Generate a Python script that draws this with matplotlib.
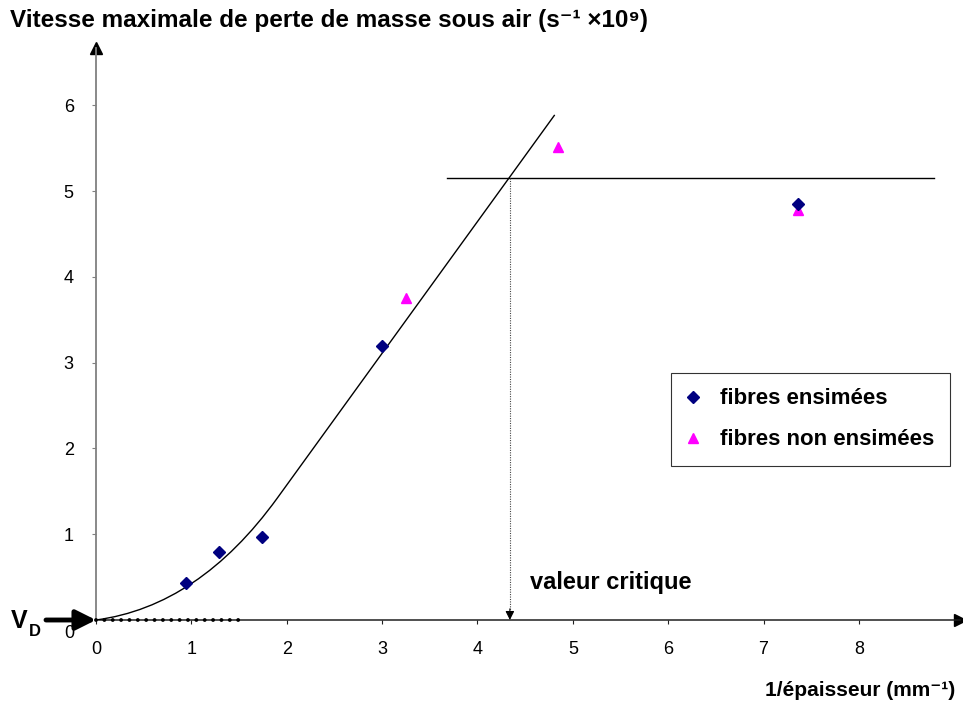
import matplotlib
matplotlib.use('Agg')
import matplotlib.pyplot as plt
from matplotlib.lines import Line2D
from matplotlib.path import Path
from matplotlib.patches import PathPatch

plt.rcParams['font.family'] = ['Liberation Sans', 'DejaVu Sans']

# Mesures (1/épaisseur en mm^-1, vitesse en s^-1 x 10^9)
x_ensimees = [0.94, 1.29, 1.74, 3.00, 7.36]
y_ensimees = [0.43, 0.79, 0.97, 3.20, 4.85]
x_non_ensimees = [3.25, 4.84, 7.36]
y_non_ensimees = [3.75, 5.52, 4.78]

# Tendance : origine, point de contrôle de la courbe, fin de courbe, fin de droite
tendance_x = [0.0, 1.08, 1.90, 4.81]
tendance_y = [0.0, 0.16, 1.42, 5.89]

# Plateau et valeur critique
plateau_y = 5.15
plateau_x = [3.68, 8.79]
valeur_critique = 4.34
vd_fin = 1.56

xticks = [0, 1, 2, 3, 4, 5, 6, 7, 8]
yticks = [1, 2, 3, 4, 5, 6]

fig = plt.figure(figsize=(9.63, 7.06), dpi=100)
ax = fig.add_axes([96 / 963, 86 / 706, 864 / 963, 572 / 706])
ax.set_xlim(0, 9.06)
ax.set_ylim(0, 6.67)

for s in ['top', 'right']:
    ax.spines[s].set_visible(False)
ax.spines['left'].set_color('#808080')
ax.spines['bottom'].set_color('#202020')
ax.spines['left'].set_linewidth(1.3)
ax.spines['bottom'].set_linewidth(1.1)

# flèches au bout des axes
ax.plot(0, 1, '^', color='k', markersize=8, transform=ax.get_xaxis_transform(), clip_on=False)
ax.plot(1, 0, '>', color='k', markersize=8, transform=ax.get_yaxis_transform(), clip_on=False)

ax.set_xticks(xticks)
ax.set_xticklabels([str(t) for t in xticks])
ax.set_yticks(yticks)
ax.set_yticklabels([str(t) for t in yticks])
ax.tick_params(axis='x', length=3, width=0.8, pad=12, labelsize=13, color='#202020')
ax.tick_params(axis='y', length=3, width=0.8, pad=13, labelsize=13, color='#808080')
ax.annotate('0', xy=(0, 0), xytext=(-19, -10), textcoords='offset points',
            ha='center', va='center', fontsize=13)

# courbe de tendance (arc quadratique puis droite)
codes = [Path.MOVETO, Path.CURVE3, Path.CURVE3, Path.LINETO]
trace = Path(list(zip(tendance_x, tendance_y)), codes)
ax.add_patch(PathPatch(trace, facecolor='none', edgecolor='k', lw=1.0, zorder=3))
ax.plot(plateau_x, [plateau_y, plateau_y], color='k', lw=1.0, zorder=3)

# valeur critique
ax.plot([valeur_critique, valeur_critique], [plateau_y, 0.12], color='#444444',
        lw=0.8, linestyle=(0, (1, 1.2)), zorder=3)
ax.annotate('', xy=(valeur_critique, 0), xytext=(valeur_critique, 0.13),
            arrowprops=dict(arrowstyle='-|>', color='k', lw=0.8, mutation_scale=13,
                            shrinkA=0, shrinkB=0))
ax.text(4.55, 0.44, 'valeur critique', fontsize=17, fontweight='bold',
        ha='left', va='center')

# V_D : pointillés et flèche
ax.plot([0, vd_fin], [0, 0], color='k', lw=2.8, linestyle=(0, (0.01, 2.14)),
        dash_capstyle='round', zorder=4, clip_on=False)
ax.annotate('', xy=(0, 0), xytext=(-36, 0), textcoords='offset points',
            arrowprops=dict(arrowstyle='-|>', color='k', lw=3.5, mutation_scale=30,
                            shrinkA=0, shrinkB=0), annotation_clip=False)
ax.annotate('V', xy=(0, 0), xytext=(-61, -1), textcoords='offset points',
            fontsize=18, fontweight='bold', ha='left', va='center', annotation_clip=False)
ax.annotate('D', xy=(0, 0), xytext=(-48, -8), textcoords='offset points',
            fontsize=12, fontweight='bold', ha='left', va='center', annotation_clip=False)

# points de mesure
ax.plot(x_ensimees, y_ensimees, 'D', color='#000080', markersize=6, ls='none', zorder=5,
        clip_on=False)
ax.plot(x_non_ensimees, y_non_ensimees, '^', color='#FF00FF', markersize=7, ls='none',
        zorder=4, clip_on=False)

handles = [
    Line2D([], [], marker='D', color='#000080', ls='none', markersize=6),
    Line2D([], [], marker='^', color='#FF00FF', ls='none', markersize=7),
]
leg = ax.legend(handles, ['fibres ensimées', 'fibres non ensimées'],
                loc='upper left', bbox_to_anchor=(0.6655, 0.432),
                prop={'weight': 'bold', 'size': 16}, frameon=True, fancybox=False,
                edgecolor='k', handlelength=0.6, handletextpad=0.9,
                labelspacing=0.9, borderpad=0.7, borderaxespad=0)
leg.get_frame().set_linewidth(0.8)

fig.text(10 / 963, 1 - 20 / 706,
         'Vitesse maximale de perte de masse sous air (s⁻¹ ×10⁹)',
         fontsize=17.5, fontweight='bold', ha='left', va='center')
fig.text(955 / 963, 1 - 690 / 706, '1/épaisseur (mm⁻¹)',
         fontsize=15, fontweight='bold', ha='right', va='center')

fig.savefig('out.png', dpi=100)
